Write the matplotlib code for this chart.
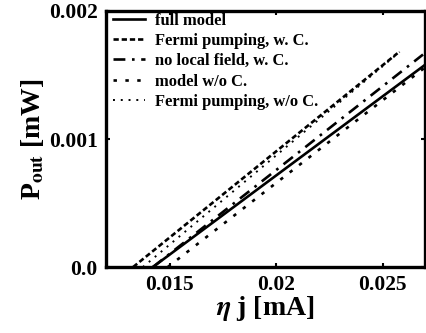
import matplotlib
matplotlib.use("Agg")
import matplotlib.pyplot as plt

# Daten: Anfangs- und Endpunkte der nahezu linearen Kennlinien
xFull = [0.0142, 0.0270]
yFull = [0.0, 0.00158]
xFermiC = [0.01327, 0.02570]
yFermiC = [0.0, 0.00167]
xNoLocal = [0.0142, 0.0269]
yNoLocal = [0.0, 0.00166]
xModelNoC = [0.0149, 0.0270]
yModelNoC = [0.0, 0.00156]
xFermiNoC = [0.01373, 0.02580]
yFermiNoC = [0.0, 0.00168]

labels = ["full model", "Fermi pumping, w. C.", "no local field, w. C.",
          "model w/o C.", "Fermi pumping, w/o C."]
xTicks = [0.015, 0.02, 0.025]
xTickLabels = ["0.015", "0.02", "0.025"]
yTicks = [0.0, 0.001, 0.002]
yTickLabels = ["0.0", "0.001", "0.002"]

plt.rcParams['font.family'] = ['Liberation Serif', 'DejaVu Serif']
plt.rcParams['font.weight'] = 'bold'
plt.rcParams['mathtext.fontset'] = 'stix'

fig = plt.figure(figsize=(4.26, 3.33), dpi=100)
ax = fig.add_axes([0.249, 0.198, 0.749, 0.769])

lw = 1.9
ax.plot(xFull, yFull, color='black', lw=lw, linestyle='-', label=labels[0])
ax.plot(xFermiC, yFermiC, color='black', lw=lw, linestyle=(0, (2.0, 1.1)), label=labels[1])
ax.plot(xNoLocal, yNoLocal, color='black', lw=lw, linestyle=(0, (4.5, 2.5, 1, 2.5)), label=labels[2])
ax.plot(xModelNoC, yModelNoC, color='black', lw=lw, linestyle=(0, (1.3, 3.2)), label=labels[3])
ax.plot(xFermiNoC, yFermiNoC, color='black', lw=1.4, linestyle=(0, (1, 3)), label=labels[4])

ax.set_xlim(0.012, 0.027)
ax.set_ylim(0.0, 0.002)
ax.set_xticks(xTicks)
ax.set_xticklabels(xTickLabels)
ax.set_yticks(yTicks)
ax.set_yticklabels(yTickLabels)
ax.tick_params(direction='in', length=3, width=1.5, labelsize=15.5,
               top=True, right=True, pad=6)
for s in ax.spines.values():
    s.set_linewidth(2.4)

ax.set_xlabel(r'$\eta$ j [mA]', fontsize=20, fontweight='bold', labelpad=-1)
ax.set_ylabel(r'P$_{\mathbf{out}}$ [mW]', fontsize=20, fontweight='bold', labelpad=2)

# Legende ohne Rahmen, leicht eingerückt wie im Original
leg = ax.legend(loc='upper left', bbox_to_anchor=(0.016, 1.0), frameon=False,
                handlelength=1.95, handletextpad=0.6, labelspacing=0.26,
                borderaxespad=0.1, borderpad=0.0,
                prop={'weight': 'bold', 'size': 11.9})

fig.savefig("out.png", dpi=100)
